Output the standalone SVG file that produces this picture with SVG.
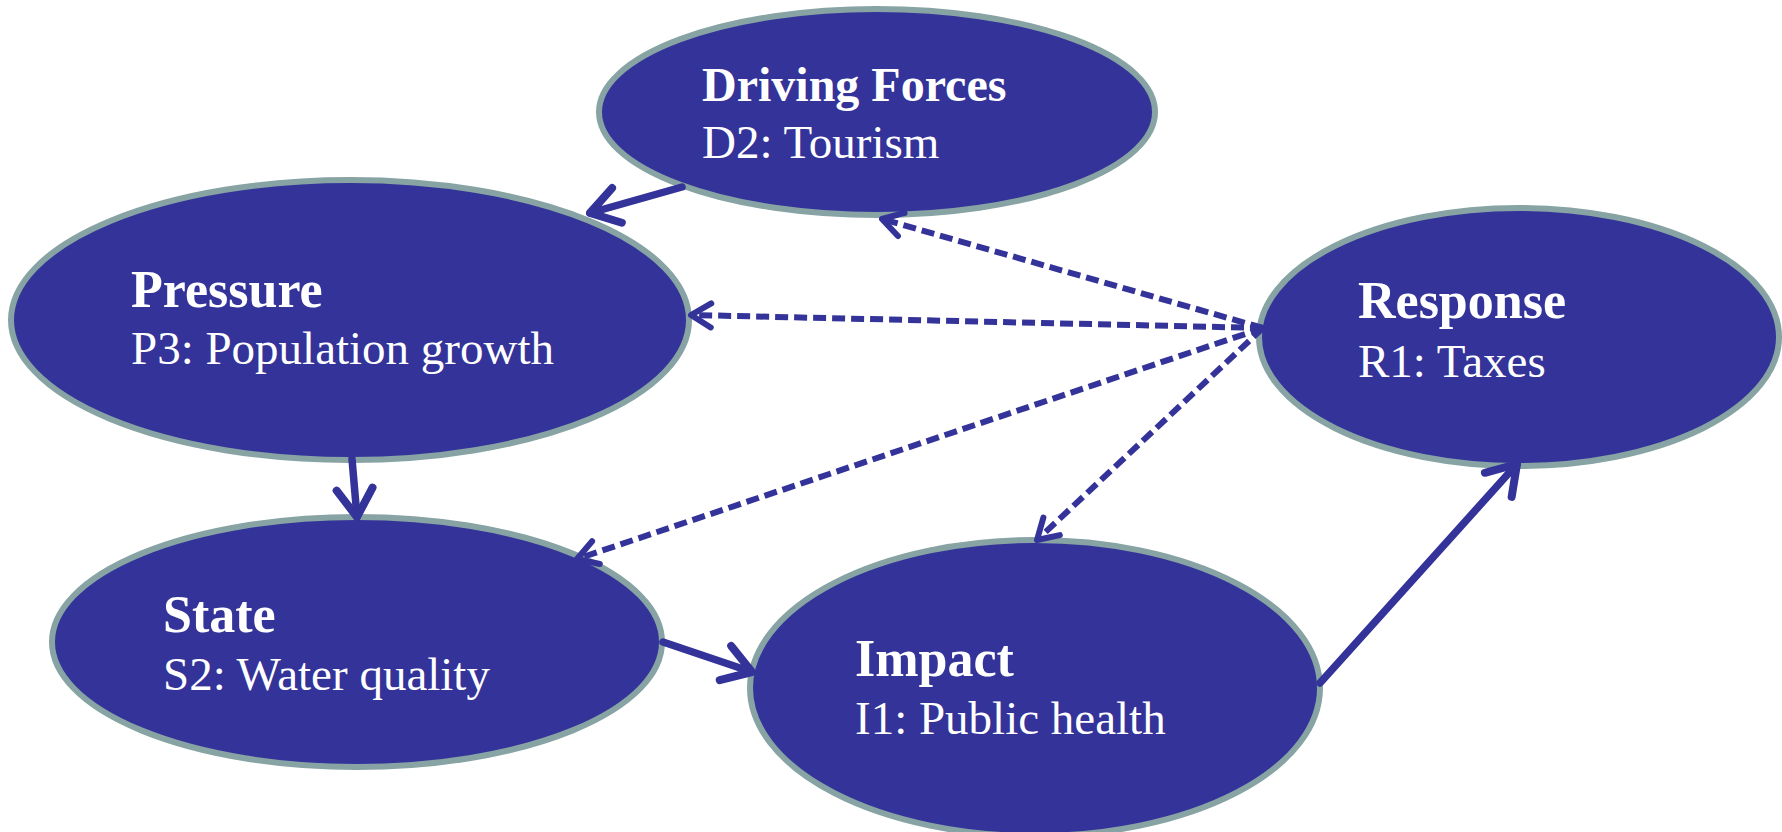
<svg xmlns="http://www.w3.org/2000/svg" width="1782" height="832" viewBox="0 0 1782 832">
<style>
.node{fill:#333399;stroke:#87a3a3;stroke-width:6}
.t{font-family:"Liberation Serif","Times New Roman",serif;fill:#ffffff}
.b{font-weight:bold;font-size:52px}
.r{font-size:47px}
.solid{stroke:#333399;stroke-width:7.5;fill:none;stroke-linecap:round}
.dash{stroke:#333399;stroke-width:6;fill:none;stroke-dasharray:13 6}
</style>
<defs>
<marker id="ahs" markerUnits="userSpaceOnUse" viewBox="-40 -30 50 60" markerWidth="50" markerHeight="60" refX="0" refY="0" orient="auto">
<path d="M-28,-18 L0,0 L-28,18" fill="none" stroke="#333399" stroke-width="8" stroke-linecap="round" stroke-linejoin="round"/>
</marker>
<marker id="ahd" markerUnits="userSpaceOnUse" viewBox="-40 -30 50 60" markerWidth="50" markerHeight="60" refX="0" refY="0" orient="auto">
<path d="M-20,-12 L0,0 L-20,12" fill="none" stroke="#333399" stroke-width="6" stroke-linecap="round" stroke-linejoin="round"/>
</marker>
</defs>
<rect width="1782" height="832" fill="#ffffff"/>
<g id="driving-forces">
<ellipse class="node" cx="877" cy="112" rx="278" ry="103"/>
<text class="t" x="702" y="101" style="font-weight:bold;font-size:48px">Driving Forces</text>
<text class="t r" x="702" y="158">D2: Tourism</text>
</g>
<g id="pressure">
<ellipse class="node" cx="350" cy="320" rx="339" ry="140"/>
<text class="t b" x="131" y="307">Pressure</text>
<text class="t r" x="131" y="364">P3: Population growth</text>
</g>
<g id="response">
<ellipse class="node" cx="1519" cy="337" rx="260" ry="129"/>
<text class="t b" x="1358" y="318">Response</text>
<text class="t r" x="1358" y="377">R1: Taxes</text>
</g>
<g id="state">
<ellipse class="node" cx="357" cy="642" rx="305" ry="125"/>
<text class="t b" x="163" y="632">State</text>
<text class="t r" x="163" y="690">S2: Water quality</text>
</g>
<g id="impact">
<ellipse class="node" cx="1035" cy="688" rx="285" ry="148"/>
<text class="t b" x="855" y="676">Impact</text>
<text class="t r" x="855" y="734">I1: Public health</text>
</g>
<g id="connectors">
<line class="solid" x1="682" y1="187" x2="590" y2="213" marker-end="url(#ahs)"/>
<line class="solid" x1="352" y1="459" x2="357" y2="517" marker-end="url(#ahs)"/>
<line class="solid" x1="663" y1="642" x2="752" y2="672" marker-end="url(#ahs)"/>
<line class="solid" x1="1320" y1="683" x2="1517" y2="464" marker-end="url(#ahs)"/>
<line class="dash" x1="1263" y1="328" x2="882" y2="219" marker-end="url(#ahd)"/>
<line class="dash" x1="1263" y1="328" x2="691" y2="315" marker-end="url(#ahd)"/>
<line class="dash" x1="1263" y1="328" x2="577" y2="559" marker-end="url(#ahd)"/>
<line class="dash" x1="1263" y1="328" x2="1037" y2="540" marker-end="url(#ahd)"/>
</g>
</svg>
